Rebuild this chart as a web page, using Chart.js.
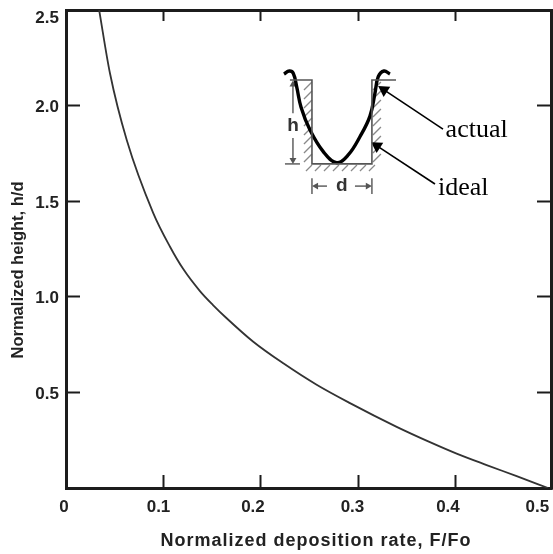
<!DOCTYPE html>
<html>
<head>
<meta charset="utf-8">
<title>Normalized height vs deposition rate</title>
<script src="https://cdn.jsdelivr.net/npm/chart.js@4"></script>
<style>
  html, body { margin: 0; padding: 0; background: #fff; overflow: hidden; }
  canvas { display: block; filter: blur(0.6px); }
</style>
</head>
<body>
<canvas id="chart" width="553" height="554"></canvas>
<script>
// main curve
const depositionRate = [0.034, 0.0451, 0.0623, 0.0895, 0.1067, 0.1203, 0.1374, 0.1508, 0.1648, 0.1921, 0.2229, 0.2571, 0.2913, 0.3392, 0.3733, 0.4007, 0.4315, 0.4623, 0.4945];
const normalizedHeight = [2.5, 2.169, 1.82, 1.438, 1.262, 1.145, 1.03, 0.957, 0.888, 0.765, 0.652, 0.54, 0.444, 0.32, 0.24, 0.18, 0.12, 0.062, 0];

const xTicks = [0, 0.1, 0.2, 0.3, 0.4, 0.5];
const xTickLabels = ['0', '0.1', '0.2', '0.3', '0.4', '0.5'];
const yTicks = [0.5, 1, 1.5, 2, 2.5];
const yTickLabels = ['0.5', '1.0', '1.5', '2.0', '2.5'];

const xTitle = 'Normalized deposition rate, F/Fo';
const yTitle = 'Normalized height, h/d';

// inset sketch, in the same axis units
const actualX = [0.2236, 0.229, 0.2331, 0.2366, 0.2412, 0.2503, 0.2639, 0.2776, 0.2895, 0.3015, 0.3118, 0.3169, 0.3203, 0.3262, 0.3323];
const actualY = [2.165, 2.181, 2.169, 2.099, 1.99, 1.872, 1.759, 1.701, 1.742, 1.837, 1.945, 2.064, 2.151, 2.181, 2.165];
const wellX = [0.2297, 0.2523, 0.2523, 0.3138, 0.3138, 0.3385];
const wellY = [2.134, 2.134, 1.695, 1.695, 2.134, 2.134];

const toPoints = (xs, ys) => xs.map((x, i) => ({ x, y: ys[i] }));
const INK = '#1c1c1c';
const SOFT = '#555';

function segment(x, y, color, width, arrowAt, angle, size) {
  return {
    data: toPoints(x, y),
    borderColor: color,
    backgroundColor: color,
    borderWidth: width,
    tension: 0,
    pointStyle: 'triangle',
    pointRadius: x.map((_, i) => (i === arrowAt ? size : 0)),
    pointRotation: angle,
    pointBorderWidth: 0,
  };
}

const datasets = [
  {
    data: toPoints(depositionRate, normalizedHeight),
    borderColor: '#333',
    borderWidth: 1.8,
    pointRadius: 0,
    cubicInterpolationMode: 'monotone',
  },
  segment(wellX, wellY, SOFT, 1.6),
  {
    data: toPoints(actualX, actualY),
    borderColor: '#000',
    borderWidth: 3.4,
    pointRadius: 0,
    tension: 0.4,
  },
  // leader arrows
  segment([0.3867, 0.3262], [1.877, 2.082], '#000', 1.6, 1, -57, 7),
  segment([0.3785, 0.319], [1.59, 1.789], '#000', 1.6, 1, -57, 7),
  // h dimension
  segment([0.2328, 0.2328], [1.96, 2.11], SOFT, 1.4, 1, 0, 4),
  segment([0.2328, 0.2328], [1.83, 1.715], SOFT, 1.4, 1, 180, 4),
  segment([0.2246, 0.24], [1.695, 1.695], SOFT, 1.4),
  // d dimension
  segment([0.2523, 0.2523], [1.62, 1.538], SOFT, 1.4),
  segment([0.3138, 0.3138], [1.62, 1.538], SOFT, 1.4),
  segment([0.2677, 0.2565], [1.579, 1.579], SOFT, 1.4, 1, -90, 4),
  segment([0.2964, 0.3096], [1.579, 1.579], SOFT, 1.4, 1, 90, 4),
];

const xLabelShift = [-2, -5, -8, -6, -8, -16];
const yLabelShift = [2, 2, 2, 2, 8];

const paperText = {
  id: 'paperText',
  afterDraw(chart) {
    const { ctx, scales: { x, y } } = chart;
    ctx.save();
    ctx.fillStyle = '#222';
    ctx.textBaseline = 'middle';

    ctx.font = 'bold 17px "Liberation Sans"';
    ctx.textAlign = 'center';
    xTicks.forEach((v, i) => {
      ctx.fillText(xTickLabels[i], x.getPixelForValue(v) + xLabelShift[i], 507);
    });
    ctx.textAlign = 'right';
    yTicks.forEach((v, i) => {
      ctx.fillText(yTickLabels[i], 59, y.getPixelForValue(v) + yLabelShift[i]);
    });

    ctx.textAlign = 'center';
    ctx.font = 'bold 18px "Liberation Sans"';
    ctx.letterSpacing = '1px';
    ctx.fillText(xTitle, 316, 541);
    ctx.letterSpacing = '0px';
    ctx.font = 'bold 16.5px "Liberation Sans"';
    ctx.save();
    ctx.translate(18, 270);
    ctx.rotate(-Math.PI / 2);
    ctx.fillText(yTitle, 0, 0);
    ctx.restore();

    // inset letters
    ctx.fillStyle = '#333';
    ctx.font = 'bold 19px "Liberation Sans"';
    ctx.fillText('h', x.getPixelForValue(0.2328), y.getPixelForValue(1.895));
    ctx.fillText('d', x.getPixelForValue(0.2828), y.getPixelForValue(1.579));

    ctx.fillStyle = '#000';
    ctx.font = '26px "Liberation Serif"';
    ctx.textAlign = 'left';
    ctx.textBaseline = 'alphabetic';
    ctx.fillText('actual', x.getPixelForValue(0.3894), y.getPixelForValue(1.836));
    ctx.fillText('ideal', x.getPixelForValue(0.3815), y.getPixelForValue(1.532));
    ctx.restore();
  },
  // hatching around the well
  beforeDatasetsDraw(chart) {
    const { ctx, scales: { x, y } } = chart;
    const left = x.getPixelForValue(wellX[1]);
    const right = x.getPixelForValue(wellX[3]);
    const top = y.getPixelForValue(wellY[0]);
    const bottom = y.getPixelForValue(wellY[2]);
    ctx.save();
    ctx.strokeStyle = '#8a8a8a';
    ctx.lineWidth = 1.3;
    ctx.beginPath();
    for (let py = top + 5; py <= bottom + 2; py += 9) {
      ctx.moveTo(left - 8, py + 5);
      ctx.lineTo(left, py - 3);
      ctx.moveTo(right + 1, py + 5);
      ctx.lineTo(right + 9, py - 3);
    }
    for (let px = left - 6; px <= right + 6; px += 9) {
      ctx.moveTo(px, bottom + 7);
      ctx.lineTo(px + 6, bottom + 1);
    }
    ctx.stroke();
    ctx.restore();
  },
};

const fitTo = (size) => (scale) => {
  if (scale.isHorizontal()) scale.height = size;
  else scale.width = size;
  scale.paddingLeft = scale.paddingRight = scale.paddingTop = scale.paddingBottom = 0;
};

const frameAxis = (position, min, max, stepSize, size, tickLength) => ({
  type: 'linear',
  position,
  min,
  max,
  border: { display: true, color: INK, width: 3 },
  grid: { drawOnChartArea: false, drawTicks: true, tickLength, tickWidth: 2, tickColor: INK },
  ticks: { display: false, stepSize },
  afterFit: fitTo(size),
});

new Chart(document.getElementById('chart'), {
  type: 'line',
  data: { datasets },
  options: {
    animation: false,
    responsive: false,
    parsing: true,
    layout: { padding: 0, autoPadding: false },
    plugins: { legend: { display: false }, tooltip: { enabled: false } },
    scales: {
      x: frameAxis('bottom', 0, 0.4975, 0.1, 66, -13),
      x2: frameAxis('top', 0, 0.4975, 0.1, 10, -11),
      y: frameAxis('left', 0, 2.5, 0.5, 66, -14),
      y2: frameAxis('right', 0, 2.5, 0.5, 2, -14),
    },
  },
  plugins: [paperText],
});
</script>
</body>
</html>
